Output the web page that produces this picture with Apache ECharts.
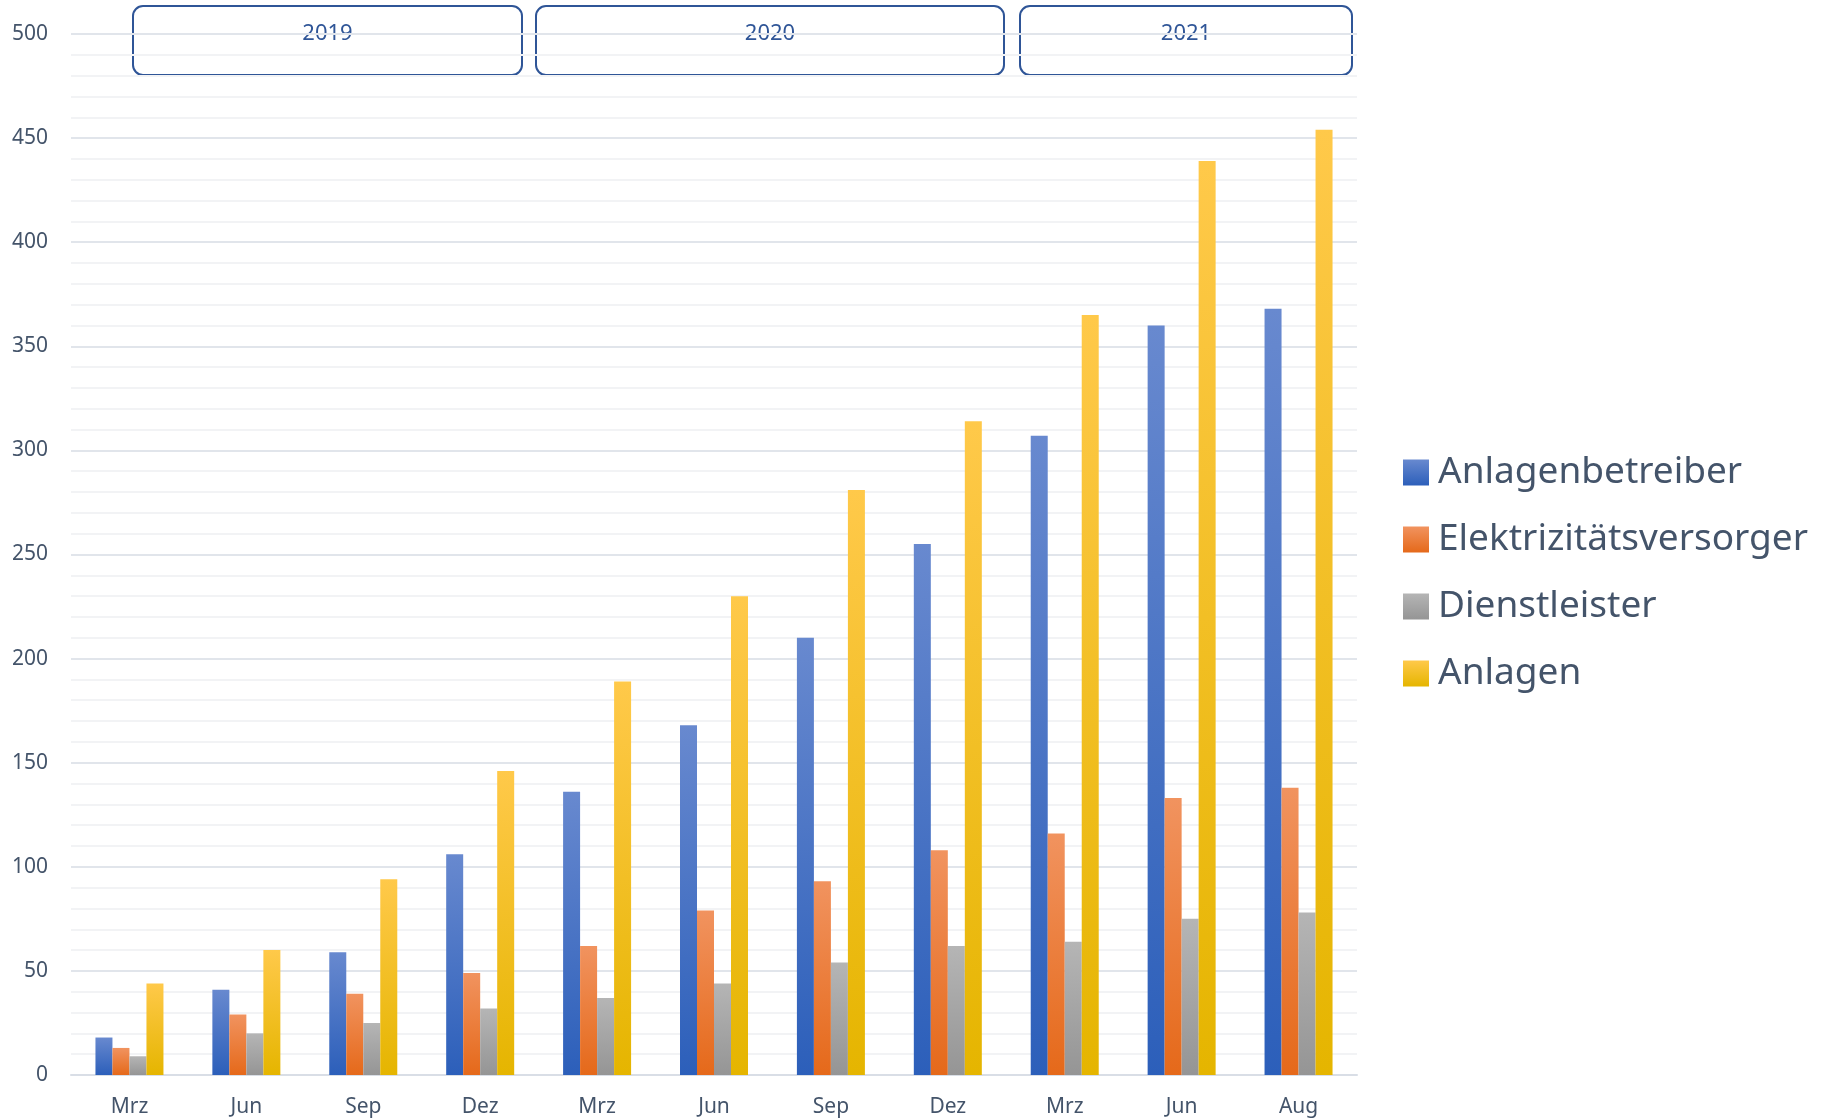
<!DOCTYPE html>
<html>
<head>
<meta charset="utf-8">
<title>Anlagen</title>
<script src="https://cdn.jsdelivr.net/npm/echarts@6/dist/echarts.min.js"></script>
<style>
  html, body { margin: 0; padding: 0; background: #fff; }
  #chart { width: 1826px; height: 1118px; }
</style>
</head>
<body>
<div id="chart"></div>
<script>
// Quartale (Monat)
var categories = ['Mrz', 'Jun', 'Sep', 'Dez', 'Mrz', 'Jun', 'Sep', 'Dez', 'Mrz', 'Jun', 'Aug'];
var years = ['2019', '2020', '2021'];

var anlagenbetreiber = [18, 41, 59, 106, 136, 168, 210, 255, 307, 360, 368];
var elektrizitaetsversorger = [13, 29, 39, 49, 62, 79, 93, 108, 116, 133, 138];
var dienstleister = [9, 20, 25, 32, 37, 44, 54, 62, 64, 75, 78];
var anlagen = [44, 60, 94, 146, 189, 230, 281, 314, 365, 439, 454];

var yTicks = [0, 50, 100, 150, 200, 250, 300, 350, 400, 450, 500];

var textColor = '#44546A';
var font = 'Noto Sans';

function grad(top, bottom) {
    return new echarts.graphic.LinearGradient(0, 0, 0, 1, [
        { offset: 0, color: top },
        { offset: 1, color: bottom }
    ]);
}

function barSeries(name, data, colTop, colBottom) {
    return {
        name: name,
        type: 'bar',
        data: data,
        barWidth: 17,
        barGap: '0%',
        itemStyle: { color: grad(colTop, colBottom) }
    };
}

// Jahresrahmen oben (x von/bis in px)
var boxX = [[133, 522], [536, 1004], [1020, 1352]];

var chart = echarts.init(document.getElementById('chart'));

chart.setOption({
    backgroundColor: '#ffffff',
    animation: false,
    textStyle: { fontFamily: font },
    grid: { left: 71, right: 469, top: 34, bottom: 43 },
    legend: {
        orient: 'vertical',
        left: 1398,
        top: 449,
        icon: 'rect',
        itemWidth: 26,
        itemHeight: 26,
        itemGap: 30,
        textStyle: { color: textColor, fontSize: 37, lineHeight: 37, fontFamily: font, padding: [0, 0, 0, 4] },
        data: ['Anlagenbetreiber', 'Elektrizitätsversorger', 'Dienstleister', 'Anlagen']
    },
    xAxis: {
        type: 'category',
        data: categories,
        axisLine: { lineStyle: { color: '#D9DEE6', width: 2 } },
        axisTick: { show: false },
        axisLabel: { color: textColor, fontSize: 21, margin: 22 }
    },
    yAxis: {
        type: 'value',
        min: yTicks[0],
        max: yTicks[yTicks.length - 1],
        interval: 50,
        axisLine: { show: false },
        axisTick: { show: false },
        axisLabel: { color: textColor, fontSize: 21, margin: 23 },
        splitLine: { lineStyle: { color: '#E1E5EB', width: 2 } },
        minorTick: { show: false, splitNumber: 5 },
        minorSplitLine: { show: true, lineStyle: { color: '#F2F3F5', width: 2 } }
    },
    series: [
        barSeries('Anlagenbetreiber', anlagenbetreiber, '#6889CF', '#2C5FBA'),
        barSeries('Elektrizitätsversorger', elektrizitaetsversorger, '#F1935F', '#E5691A'),
        barSeries('Dienstleister', dienstleister, '#B5B5B5', '#959595'),
        barSeries('Anlagen', anlagen, '#FFC94A', '#E5B500')
    ],
    graphic: years.map(function (y, i) {
        var x0 = boxX[i][0], x1 = boxX[i][1];
        return {
            type: 'group',
            z: 100,
            children: [
                {
                    type: 'rect',
                    shape: { x: x0, y: 6, width: x1 - x0, height: 69, r: 10 },
                    style: { fill: 'transparent', stroke: '#2F5597', lineWidth: 2 }
                },
                {
                    type: 'text',
                    x: (x0 + x1) / 2,
                    y: 34,
                    style: {
                        text: y,
                        fill: '#2F5597',
                        font: '22px "Noto Sans"',
                        align: 'center',
                        verticalAlign: 'middle'
                    }
                }
            ]
        };
    })
});

window.addEventListener('resize', function () {
    chart.resize();
});
</script>
</body>
</html>
